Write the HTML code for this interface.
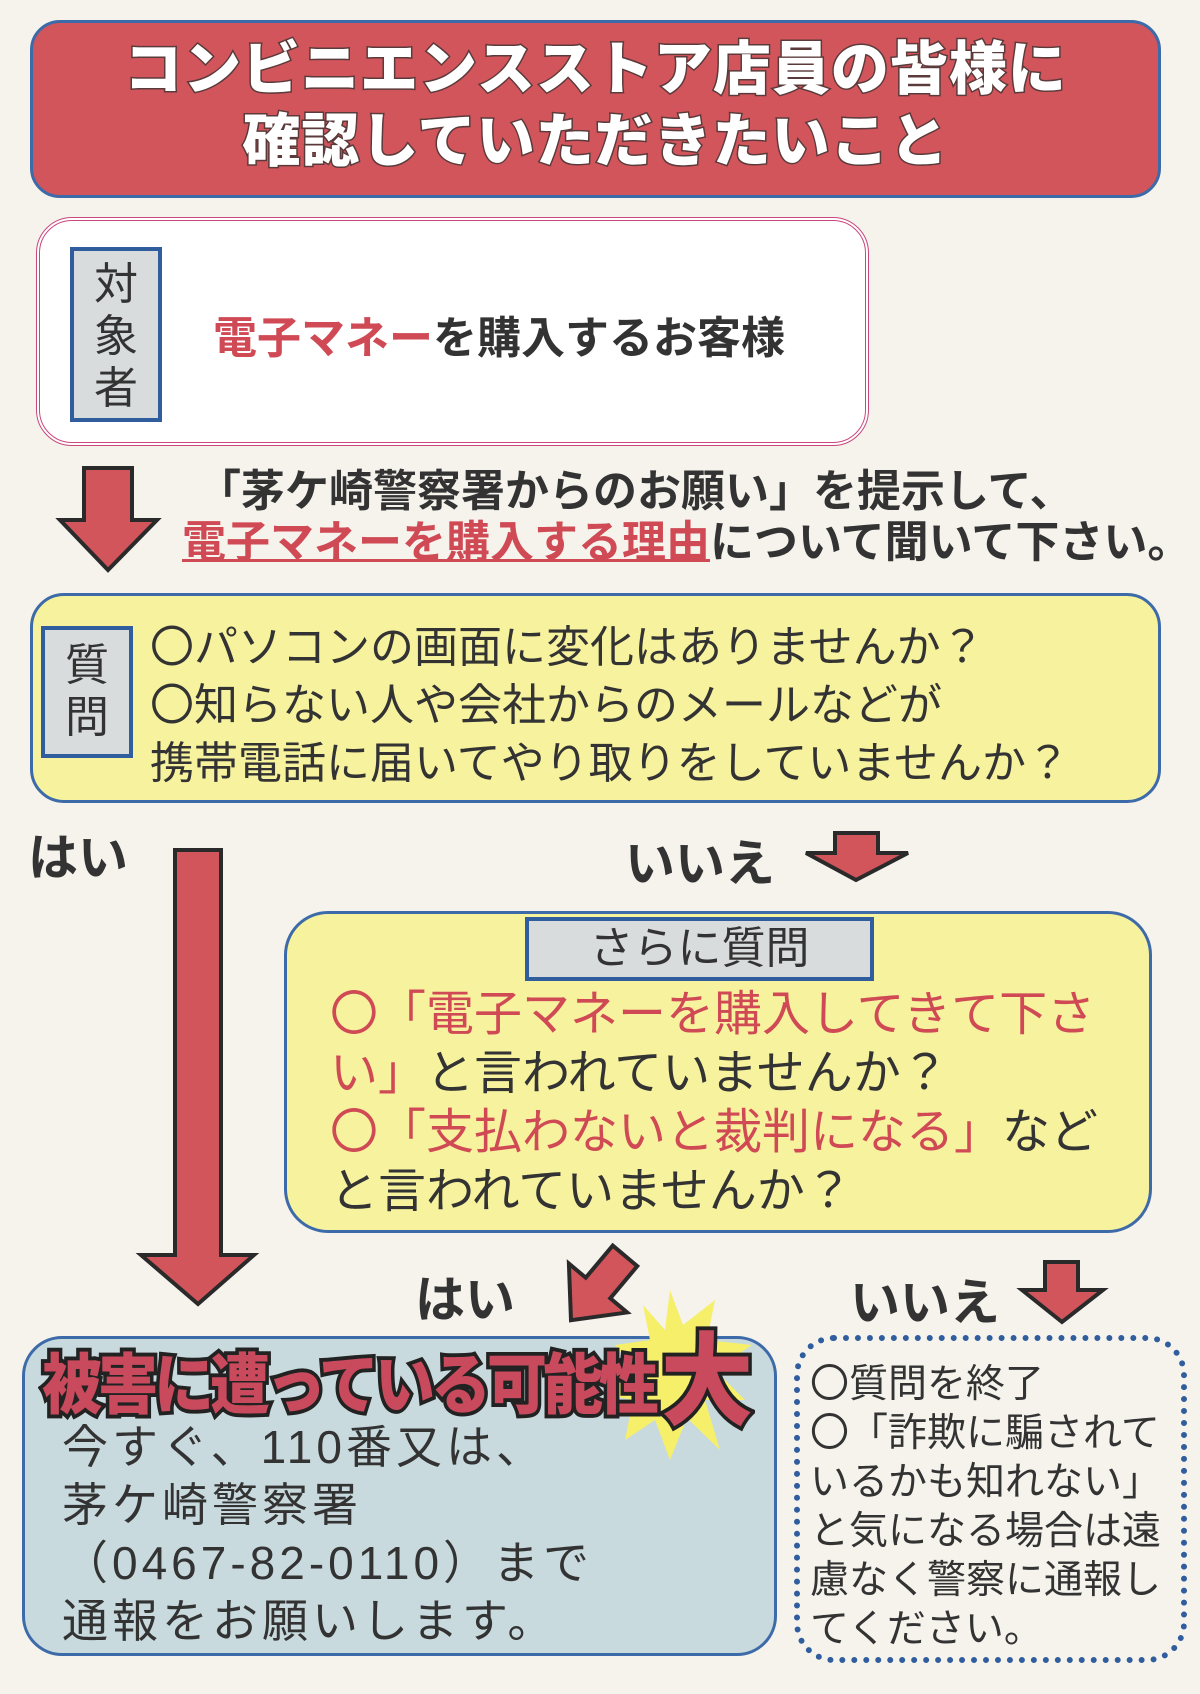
<!DOCTYPE html>
<html><head><meta charset="utf-8"><style>
*{margin:0;padding:0;box-sizing:border-box}
body{width:1200px;height:1694px;background:#f5f3ec;position:relative;overflow:hidden;font-family:"Liberation Sans","Noto Sans CJK JP",sans-serif;color:#2a2a2a}
.a{position:absolute;white-space:nowrap}
.box{position:absolute;border-radius:38px}
.r{color:#d04a55}
.lbl{position:absolute;background:#d9dcdc;border:4px solid #2f5d9e;color:#333;text-align:center}
</style></head><body>

<div class="box" style="left:30px;top:20px;width:1131px;height:178px;background:#d3555c;border:3px solid #3d6aa8;border-radius:30px"></div>
<div class="a" style="left:30px;top:34px;width:1131px;text-align:center;font-size:58px;font-weight:900;line-height:72px;color:#fff;-webkit-text-stroke:3px #5a3a3a;paint-order:stroke fill;letter-spacing:1px">コンビニエンスストア店員の皆様に<br>確認していただきたいこと</div>

<div class="box" style="left:36px;top:217px;width:833px;height:229px;background:#fff;border:4px double #c9477c;border-radius:36px"></div>
<div class="lbl" style="left:70px;top:247px;width:92px;height:175px;font-size:44px;line-height:52px;padding-top:8px">対<br>象<br>者</div>
<div class="a" style="left:213px;top:302px;font-size:44px;font-weight:bold;color:#333"><span class="r">電子マネー</span>を購入するお客様</div>

<svg class="a" style="left:0;top:0" width="1200" height="1694">
<g fill="#d3555c" stroke="#2a2a2a" stroke-width="4" stroke-linejoin="miter">
<polygon points="84,468 132,468 132,520 157,520 108,570 60,520 84,520"/>
<polygon points="175,850 221,850 221,1255 254,1255 198,1304 141,1255 175,1255"/>
<polygon points="835,833 878,833 878,853 908,853 856,880 806,853 835,853"/>
<polygon transform="translate(598,1288) rotate(40)" points="-16,-42 16,-42 16,0 38,0 0,42 -38,0 -16,0"/>
<polygon points="1045,1262 1078,1262 1078,1290 1103,1290 1062,1322 1022,1290 1045,1290"/>
</g>
</svg>

<div class="a" style="left:197px;top:467px;font-size:44px;line-height:50px;font-weight:bold;color:#333">「茅ケ崎警察署からのお願い」を提示して、</div>
<div class="a" style="left:182px;top:518px;font-size:44px;line-height:50px;font-weight:bold;color:#333"><span class="r" style="text-decoration:underline;text-decoration-thickness:3px">電子マネーを購入する理由</span>について聞いて下さい。</div>

<div class="box" style="left:30px;top:593px;width:1131px;height:210px;background:#f7f29e;border:3px solid #3d6aa8;border-radius:34px"></div>
<div class="lbl" style="left:41px;top:626px;width:92px;height:132px;font-size:44px;line-height:52px;padding-top:10px">質<br>問</div>
<div class="a" style="left:150px;top:619px;font-size:44px;line-height:58px;color:#333">〇パソコンの画面に変化はありませんか？<br>〇知らない人や会社からのメールなどが<br>携帯電話に届いてやり取りをしていませんか？</div>

<div class="a" style="left:28px;top:818px;font-size:50px;font-weight:bold;color:#333">はい</div>
<div class="a" style="left:625px;top:824px;font-size:50px;font-weight:bold;color:#333">いいえ</div>

<div class="box" style="left:284px;top:911px;width:868px;height:322px;background:#f7f29e;border:3px solid #3d6aa8;border-radius:44px"></div>
<div class="lbl" style="left:525px;top:917px;width:349px;height:64px;font-size:44px;line-height:56px">さらに質問</div>
<div class="a" style="left:330px;top:985px;font-size:48px;line-height:59px;color:#333"><span class="r">〇「電子マネーを購入してきて下さ<br>い」</span>と言われていませんか？<br><span class="r">〇「支払わないと裁判になる」</span>など<br>と言われていませんか？</div>

<div class="a" style="left:415px;top:1260px;font-size:50px;font-weight:bold;color:#333">はい</div>
<div class="a" style="left:850px;top:1263px;font-size:50px;font-weight:bold;color:#333">いいえ</div>

<div class="box" style="left:22px;top:1336px;width:755px;height:320px;background:#c8dade;border:3px solid #3d6aa8;border-radius:40px;z-index:-1"></div>
<svg class="a" style="left:0;top:1290px;z-index:-1" width="800" height="200">
<polygon points="670,0 683,35 715,10 707,50 752,55 715,80 745,110 705,110 720,160 687,128 670,170 655,130 625,150 633,110 605,105 635,80 615,55 650,50 643,15 665,40" fill="#f5ef6a"/>
</svg>
<div class="a" style="left:42px;top:1350px;font-size:60px;font-weight:900;line-height:66px;color:#c94a5c;-webkit-text-stroke:7px #222;paint-order:stroke fill;letter-spacing:-4px;transform:scaleY(1.1)">被害に遭っている可能性<span style="font-size:92px;margin-left:6px;vertical-align:-8px">大</span></div>
<div class="a" style="left:62px;top:1418px;font-size:46px;line-height:58px;color:#333;letter-spacing:4px">今すぐ、110番又は、<br>茅ケ崎警察署<br>（0467-82-0110）まで<br>通報をお願いします。</div>

<div class="box" style="left:794px;top:1335px;width:393px;height:328px;border:6px dotted #2f5d9e;border-radius:40px"></div>
<div class="a" style="left:810px;top:1360px;font-size:39px;line-height:49px;color:#333">〇質問を終了<br>〇「詐欺に騙されて<br>いるかも知れない」<br>と気になる場合は遠<br>慮なく警察に通報し<br>てください。</div>

</body></html>
